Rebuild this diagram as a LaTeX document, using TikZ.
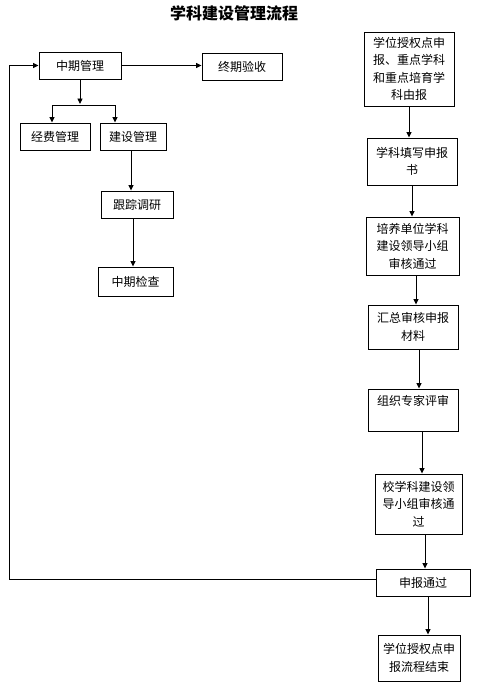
\documentclass[tikz,border=0pt]{standalone}
\usepackage{fontspec}
\setmainfont{Noto Sans CJK SC}
\usetikzlibrary{arrows.meta}
\tikzset{
  box/.style={draw, line width=0.9pt, inner sep=1pt, align=center, font=\fontsize{12}{17.5}\selectfont},
  arr/.style={line width=0.9pt, -{Triangle[length=5.5pt,width=5pt]}},
  ln/.style={line width=0.9pt}
}
\begin{document}
\begin{tikzpicture}[x=1pt,y=-1pt]
\useasboundingbox (0,0) rectangle (481,688);
\node[font=\fontsize{16}{18}\selectfont\bfseries] (title) at (234,13) {学科建设管理流程};
% left part
\node[box, minimum width=82pt, minimum height=27pt] (zq) at (80,65.5) {中期管理};
\node[box, minimum width=80pt, minimum height=27pt] (zy) at (242,66.5) {终期验收};
\node[box, minimum width=70pt, minimum height=27pt] (jf) at (55,136.5) {经费管理};
\node[box, minimum width=66pt, minimum height=27pt] (js) at (133,136.5) {建设管理};
\node[box, minimum width=72pt, minimum height=27pt] (gz) at (137,204.5) {跟踪调研};
\node[box, minimum width=75pt, minimum height=29pt] (zj) at (135.5,281.5) {中期检查};
% right column
\node[box, minimum width=90pt, minimum height=74pt] (r1) at (409,69) {学位授权点申\\报、重点学科\\和重点培育学\\科由报};
\node[box, minimum width=90pt, minimum height=47pt] (r2) at (412,161.5) {学科填写申报\\书};
\node[box, minimum width=93pt, minimum height=58pt] (r3) at (412.5,246) {培养单位学科\\建设领导小组\\审核通过};
\node[box, minimum width=90pt, minimum height=44pt] (r4) at (413,327) {汇总审核申报\\材料};
\node[box, minimum width=90pt, minimum height=42pt] (r5) at (413,410) {组织专家评审\\[-4pt]\strut};
\node[box, minimum width=87pt, minimum height=60pt] (r6) at (418.5,504) {校学科建设领\\导小组审核通\\过};
\node[box, minimum width=94pt, minimum height=27pt] (r7) at (423,582.5) {申报通过};
\node[box, minimum width=82pt, minimum height=46pt] (r8) at (419,658) {学位授权点申\\报流程结束};
% connectors left
\draw[arr] (zq.east) -- (zq.east -| zy.west);
\coordinate (fork) at (80,105);
\draw[arr] (zq.south) -- ([yshift=1pt]fork);
\draw[ln] (fork -| 52,0) -- (fork -| 115,0);
\draw[arr] (fork -| 52,0) -- (jf.north -| 52,0);
\draw[arr] (fork -| 115,0) -- (js.north -| 115,0);
\draw[arr] (js.south -| 131,0) -- (gz.north -| 131,0);
\draw[arr] (gz.south -| 133,0) -- (zj.north -| 133,0);
% connectors right
\draw[arr] (r1.south) -- (r1.south |- r2.north);
\draw[arr] (r2.south) -- (r2.south |- r3.north);
\draw[arr] (r3.south -| 416,0) -- (r4.north -| 416,0);
\draw[arr] (r4.south -| 419,0) -- (r5.north -| 419,0);
\draw[arr] (r5.south -| 422,0) -- (r6.north -| 422,0);
\draw[arr] (r6.south -| 425,0) -- (r7.north -| 425,0);
\draw[arr] (r7.south -| 428,0) -- (r8.north -| 428,0);
% loop back
\coordinate (lc) at (9,579);
\draw[arr] ([yshift=3.5pt]r7.west) -- (lc) |- (zq.west);
\end{tikzpicture}
\end{document}
